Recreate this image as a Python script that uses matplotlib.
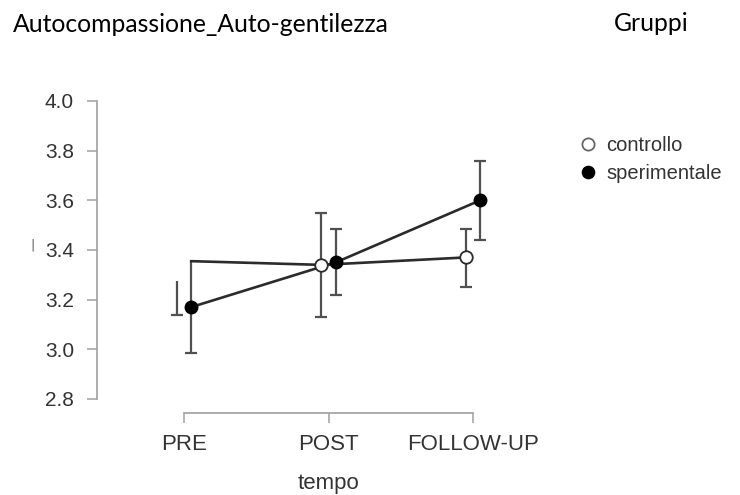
import matplotlib
matplotlib.use("Agg")
import matplotlib.pyplot as plt
from matplotlib.lines import Line2D

# ---- data ----
times = ["PRE", "POST", "FOLLOW-UP"]
groups = ["controllo", "sperimentale"]
y_ticks = [2.8, 3.0, 3.2, 3.4, 3.6, 3.8, 4.0]

# sperimentale
sper_mean = [3.17, 3.35, 3.60]
sper_lo = [2.985, 3.22, 3.44]
sper_hi = [3.355, 3.485, 3.76]

# controllo (PRE point is not drawn in the reference; its line starts at 3.355)
ctrl_mean = [3.355, 3.34, 3.37]
ctrl_lo = [3.14, 3.13, 3.25]
ctrl_hi = [3.275, 3.55, 3.485]

title = "Autocompassione_Auto-gentilezza"
legend_title = "Gruppi"
xlabel = "tempo"

# ---- style ----
DARK = "#2b2b2b"
ERR = "#505050"
SPINE = "#a0a0a0"
TXT = "#333333"
d = 0.05  # dodge

fig = plt.figure(figsize=(7.4, 4.95), dpi=100)
ax = fig.add_axes([97/740, (495-413)/495, 423/740, (413-96)/495])

x = list(range(len(times)))
xs_s = [xi + d for xi in x]
xs_c = [xi - d for xi in x]
# controllo line: PRE end coincides with the top of the sperimentale PRE bar
xs_c_line = [xs_s[0], xs_c[1], xs_c[2]]

cap_ms = 12 / 1.389

def errbar(xp, lo, hi, top_cap=True, bottom_cap=True):
    ax.plot([xp, xp], [lo, hi], color=ERR, lw=1.6, zorder=2, solid_capstyle="butt")
    if top_cap:
        ax.plot([xp], [hi], marker="_", color=ERR, ms=cap_ms, mew=1.6, zorder=2)
    if bottom_cap:
        ax.plot([xp], [lo], marker="_", color=ERR, ms=cap_ms, mew=1.6, zorder=2)

# error bars
for i in range(len(times)):
    errbar(xs_s[i], sper_lo[i], sper_hi[i], top_cap=(i != 0))
    errbar(xs_c[i], ctrl_lo[i], ctrl_hi[i], top_cap=(i != 0))

# lines
ax.plot(xs_c_line, ctrl_mean, color=DARK, lw=1.9, zorder=3)
ax.plot(xs_s, sper_mean, color=DARK, lw=1.9, zorder=3)

# markers
ax.plot(xs_c[1:], ctrl_mean[1:], ls="none", marker="o", ms=9,
        mfc="white", mec=DARK, mew=1.3, zorder=4)
ax.plot(xs_s, sper_mean, ls="none", marker="o", ms=9,
        mfc="black", mec="black", mew=1.0, zorder=5)

ax.set_xlim(-0.602, 2.325)
ax.set_ylim(2.7436, 4.02)
ax.set_xticks(x)
ax.set_xticklabels(times)
ax.set_yticks(y_ticks)
ax.set_yticklabels([f"{v:.1f}" for v in y_ticks])

for s in ["top", "right"]:
    ax.spines[s].set_visible(False)
ax.spines["left"].set_bounds(2.8, 4.0)
ax.spines["bottom"].set_bounds(0, 2)
for s in ["left", "bottom"]:
    ax.spines[s].set_color(SPINE)
    ax.spines[s].set_linewidth(1.2)

ax.tick_params(axis="both", direction="out", length=7.5, width=1.1, color=SPINE,
               labelcolor=TXT)
ax.tick_params(axis="y", pad=9, labelsize=15)
ax.tick_params(axis="x", pad=7.5, labelsize=16)
for lab in ax.get_xticklabels() + ax.get_yticklabels():
    lab.set_family("Liberation Sans")

ax.set_xlabel(xlabel, fontsize=16, color=TXT, family="Liberation Sans")
# centre the axis title under the middle category
x_frac = (1 - ax.get_xlim()[0]) / (ax.get_xlim()[1] - ax.get_xlim()[0])
ax.xaxis.set_label_coords(x_frac, -(473.5 - 413) / 317)

# legend
handles = [
    Line2D([], [], ls="none", marker="o", ms=8.8, mfc="white", mec="#666666", mew=1.3),
    Line2D([], [], ls="none", marker="o", ms=8.8, mfc="black", mec="black"),
]
leg = fig.legend(handles, groups, loc="upper left", bbox_to_anchor=(572/740, 1 - 128/495),
                 frameon=False, handlelength=0.8, handletextpad=0.5, labelspacing=0.45,
                 borderaxespad=0, prop={"family": "Liberation Sans", "size": 14.5})
for t in leg.get_texts():
    t.set_color(TXT)

# titles
fig.text(13/740, 1 - 32/495, title, family="Lato", fontsize=17.8, color="black", va="baseline")
fig.text(651/740, 1 - 31/495, legend_title, family="Lato", fontsize=17.8, color="black",
         va="baseline", ha="center")

# residual y-axis label mark
fig.text(32/740, 1 - 245/495, "|", fontsize=9, color="#555555", ha="center", va="center",
         family="DejaVu Sans")

fig.savefig("out.png", dpi=100)
